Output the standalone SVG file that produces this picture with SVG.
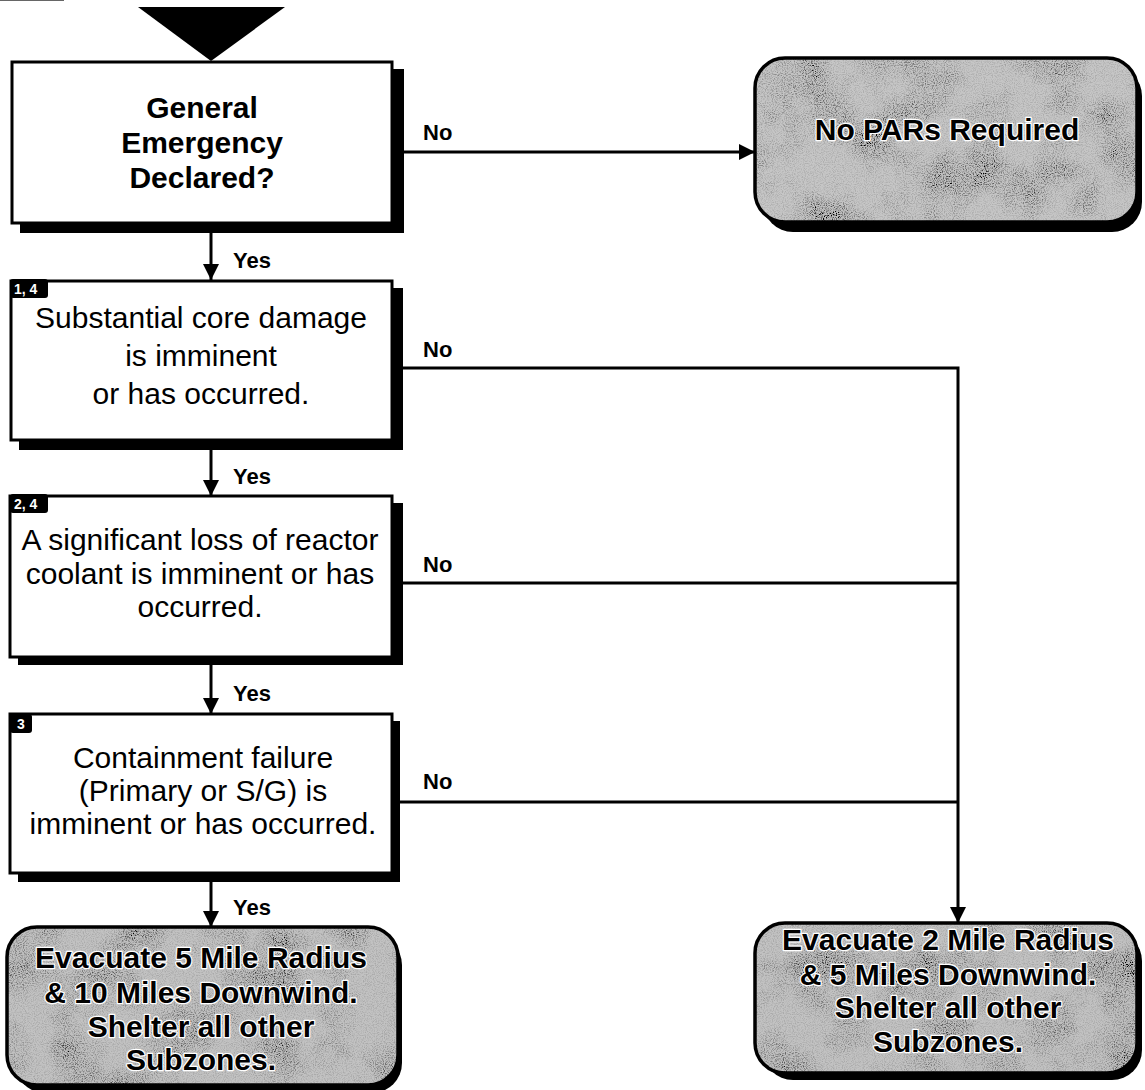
<svg xmlns="http://www.w3.org/2000/svg" width="1145" height="1090" viewBox="0 0 1145 1090">
<style>
  .box { fill: #fff; stroke: #000; stroke-width: 3; }
  .shadow { fill: #000; }
  .term { stroke: #000; stroke-width: 3.5; fill: none; }
  .q { font-family: "Liberation Sans", Arial, sans-serif; font-size: 30px; fill: #000; text-anchor: middle; }
  .qb { font-family: "Liberation Sans", Arial, sans-serif; font-size: 30px; font-weight: bold; fill: #000; text-anchor: middle; }
  .tt { font-family: "Liberation Sans", Arial, sans-serif; font-size: 30px; font-weight: bold; fill: #000; text-anchor: middle; stroke: #fff; stroke-width: 2.5; paint-order: stroke; stroke-linejoin: round; }
  .lbl { font-family: "Liberation Sans", Arial, sans-serif; font-size: 22px; font-weight: bold; fill: #000; }
  .badge { fill: #000; }
  .bt { font-family: "Liberation Sans", Arial, sans-serif; font-size: 14px; font-weight: bold; fill: #fff; }
  .conn { fill: none; stroke: #000; stroke-width: 3; }
</style>
<defs>
  <marker id="arr" markerUnits="userSpaceOnUse" markerWidth="16" markerHeight="16" viewBox="0 0 16 16" refX="16" refY="8" orient="auto">
    <path d="M0,0 L16,8 L0,16 z" fill="#000"/>
  </marker>
  <filter id="grain" x="0" y="0" width="100%" height="100%">
    <feTurbulence type="fractalNoise" baseFrequency="0.9" numOctaves="2" seed="7" result="fine"/>
    <feColorMatrix in="fine" type="matrix" values="0 0 0 0 0  0 0 0 0 0  0 0 0 0 0  0 0 0 -3 1.75" result="dots"/>
    <feTurbulence type="fractalNoise" baseFrequency="0.02" numOctaves="3" seed="3" result="coarse"/>
    <feColorMatrix in="coarse" type="matrix" values="0 0 0 0 0  0 0 0 0 0  0 0 0 0 0  0 0 0 -1.6 0.95" result="mott"/>
    <feComposite in="dots" in2="mott" operator="arithmetic" k1="1.2" k2="0.25" k3="0.1" k4="0" result="dm"/>
    <feComposite in="dm" in2="SourceGraphic" operator="in" result="d2"/>
    <feMerge><feMergeNode in="SourceGraphic"/><feMergeNode in="d2"/></feMerge>
  </filter>
</defs>

<rect width="1145" height="1090" fill="#fff"/>
<line x1="0" y1="0.5" x2="64" y2="0.5" stroke="#666" stroke-width="1"/>

<g id="start">
  <polygon points="138,7 285,7 211,61" fill="#000"/>
</g>

<g id="connectors">
  <path class="conn" d="M211 233 V280" marker-end="url(#arr)"/>
  <path class="conn" d="M211 450 V496" marker-end="url(#arr)"/>
  <path class="conn" d="M211 665 V714" marker-end="url(#arr)"/>
  <path class="conn" d="M211 882 V927" marker-end="url(#arr)"/>
  <path class="conn" d="M403 152 H755" marker-end="url(#arr)"/>
  <path class="conn" d="M403 368 H958 V923" marker-end="url(#arr)"/>
  <path class="conn" d="M403 583 H958"/>
  <path class="conn" d="M400 802 H958"/>
  <text class="lbl" x="423" y="140">No</text>
  <text class="lbl" x="423" y="357">No</text>
  <text class="lbl" x="423" y="572">No</text>
  <text class="lbl" x="423" y="789">No</text>
  <text class="lbl" x="233" y="268">Yes</text>
  <text class="lbl" x="233" y="484">Yes</text>
  <text class="lbl" x="233" y="701">Yes</text>
  <text class="lbl" x="233" y="915">Yes</text>
</g>

<g id="q-general-emergency">
  <rect class="shadow" x="20" y="69" width="384" height="164"/>
  <rect class="box" x="12" y="62" width="380" height="161"/>
  <text class="qb" x="202" y="118">General</text>
  <text class="qb" x="202" y="153">Emergency</text>
  <text class="qb" x="202" y="188">Declared?</text>
</g>

<g id="q-core-damage">
  <rect class="shadow" x="19" y="288" width="384" height="162"/>
  <rect class="box" x="11" y="281" width="381" height="159"/>
  <rect class="badge" x="10" y="279" width="38" height="19" rx="3"/>
  <text class="bt" x="14" y="294">1, 4</text>
  <text class="q" x="201" y="328">Substantial core damage</text>
  <text class="q" x="201" y="366">is imminent</text>
  <text class="q" x="201" y="404">or has occurred.</text>
</g>

<g id="q-coolant-loss">
  <rect class="shadow" x="18" y="503" width="385" height="162"/>
  <rect class="box" x="10" y="496" width="382" height="161"/>
  <rect class="badge" x="10" y="494" width="38" height="19" rx="3"/>
  <text class="bt" x="14" y="509">2, 4</text>
  <text class="q" x="200" y="550">A significant loss of reactor</text>
  <text class="q" x="200" y="584">coolant is imminent or has</text>
  <text class="q" x="200" y="617">occurred.</text>
</g>

<g id="q-containment">
  <rect class="shadow" x="18" y="721" width="382" height="161"/>
  <rect class="box" x="10" y="714" width="382" height="159"/>
  <rect class="badge" x="10" y="714" width="22" height="19" rx="3"/>
  <text class="bt" x="17" y="729">3</text>
  <text class="q" x="203" y="768">Containment failure</text>
  <text class="q" x="203" y="801">(Primary or S/G) is</text>
  <text class="q" x="203" y="834">imminent or has occurred.</text>
</g>

<g id="t-no-pars">
  <rect class="shadow" x="763" y="66" width="379" height="166" rx="30"/>
  <rect x="755" y="58" width="382" height="164" rx="30" fill="#c6c6c6" filter="url(#grain)"/>
  <rect class="term" x="755" y="58" width="382" height="164" rx="30"/>
  <text class="tt" x="947" y="140">No PARs Required</text>
</g>

<g id="t-evac-5">
  <rect class="shadow" x="15" y="935" width="387" height="158" rx="30"/>
  <rect x="7" y="927" width="391" height="158" rx="30" fill="#c2c2c2" filter="url(#grain)"/>
  <rect class="term" x="7" y="927" width="391" height="158" rx="30"/>
  <text class="tt" x="201" y="968">Evacuate 5 Mile Radius</text>
  <text class="tt" x="201" y="1003">&amp; 10 Miles Downwind.</text>
  <text class="tt" x="201" y="1037">Shelter all other</text>
  <text class="tt" x="201" y="1070">Subzones.</text>
</g>

<g id="t-evac-2">
  <rect class="shadow" x="763" y="931" width="379" height="149" rx="30"/>
  <rect x="755" y="923" width="382" height="150" rx="30" fill="#c2c2c2" filter="url(#grain)"/>
  <rect class="term" x="755" y="923" width="382" height="150" rx="30"/>
  <text class="tt" x="948" y="950">Evacuate 2 Mile Radius</text>
  <text class="tt" x="948" y="985">&amp; 5 Miles Downwind.</text>
  <text class="tt" x="948" y="1018">Shelter all other</text>
  <text class="tt" x="948" y="1052">Subzones.</text>
</g>
</svg>
